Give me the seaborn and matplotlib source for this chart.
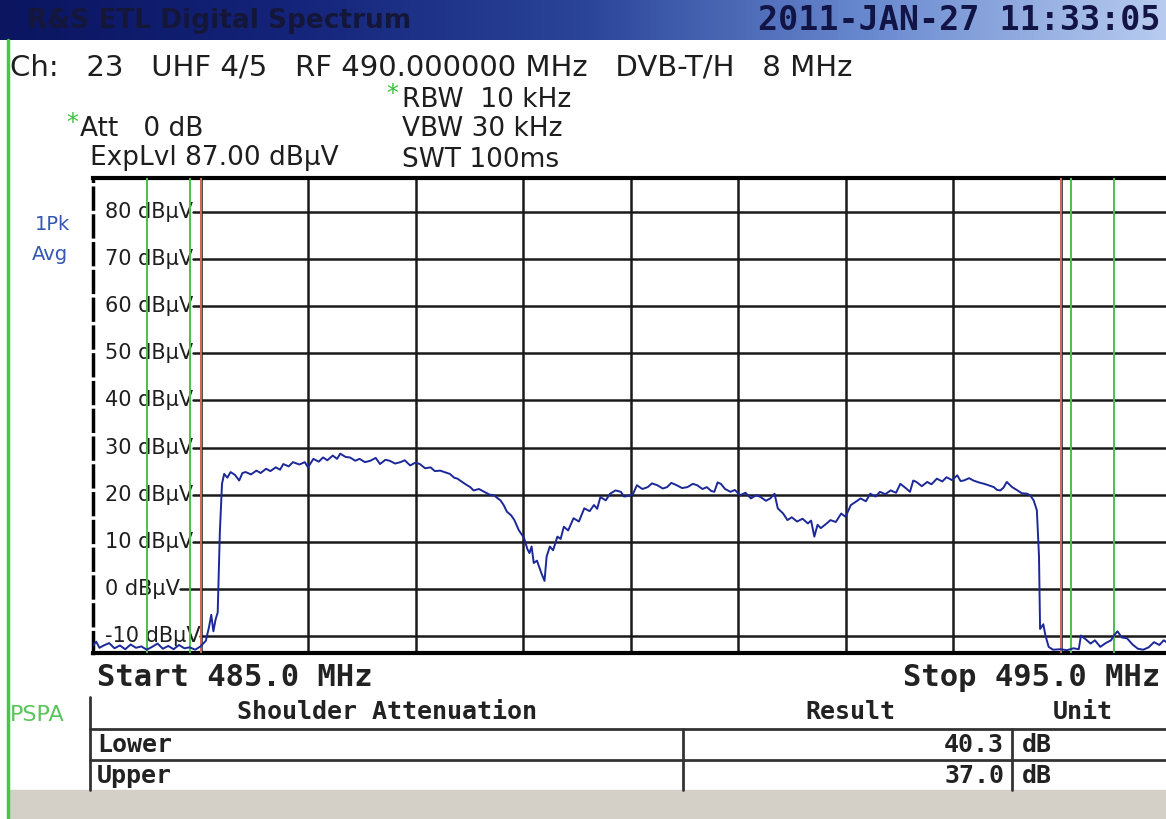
import matplotlib
matplotlib.use("Agg")
import matplotlib.pyplot as plt
import numpy as np
import seaborn as sns
from matplotlib.colors import LinearSegmentedColormap
from matplotlib.lines import Line2D
from matplotlib.patches import Rectangle

# trace (MHz, dBuV)
freq_mhz = [
    485.00, 485.03, 485.06, 485.10, 485.15, 485.20, 485.25, 485.30, 485.35, 485.40,
    485.45, 485.50, 485.55, 485.60, 485.65, 485.70, 485.75, 485.80, 485.85, 485.90,
    485.95, 486.00, 486.05, 486.08, 486.10, 486.12, 486.14, 486.16, 486.18, 486.20,
    486.22, 486.25, 486.28, 486.32, 486.36, 486.39, 486.42, 486.47, 486.52, 486.56,
    486.61, 486.65, 486.70, 486.74, 486.77, 486.82, 486.86, 486.92, 486.97, 487.00,
    487.05, 487.10, 487.14, 487.18, 487.23, 487.27, 487.30, 487.35, 487.39, 487.44,
    487.48, 487.53, 487.58, 487.63, 487.67, 487.72, 487.76, 487.81, 487.86, 487.90,
    487.95, 488.00, 488.04, 488.09, 488.14, 488.18, 488.23, 488.28, 488.32, 488.36,
    488.39, 488.44, 488.48, 488.51, 488.54, 488.59, 488.64, 488.69, 488.73, 488.76,
    488.79, 488.82, 488.85, 488.89, 488.92, 488.96, 489.01, 489.04, 489.06, 489.08,
    489.10, 489.13, 489.17, 489.20, 489.22, 489.25, 489.28, 489.32, 489.35, 489.38,
    489.42, 489.47, 489.52, 489.57, 489.62, 489.66, 489.69, 489.72, 489.77, 489.81,
    489.86, 489.91, 489.94, 489.97, 490.02, 490.06, 490.11, 490.16, 490.20, 490.25,
    490.30, 490.34, 490.38, 490.43, 490.48, 490.53, 490.58, 490.62, 490.67, 490.71,
    490.75, 490.78, 490.81, 490.84, 490.88, 490.93, 490.97, 491.02, 491.07, 491.12,
    491.17, 491.21, 491.26, 491.30, 491.34, 491.37, 491.42, 491.46, 491.50, 491.55,
    491.60, 491.65, 491.68, 491.71, 491.74, 491.77, 491.82, 491.86, 491.91, 491.96,
    492.00, 492.05, 492.09, 492.14, 492.19, 492.23, 492.28, 492.32, 492.37, 492.42,
    492.47, 492.51, 492.56, 492.60, 492.63, 492.66, 492.71, 492.76, 492.80, 492.85,
    492.90, 492.94, 492.99, 493.04, 493.07, 493.10, 493.15, 493.19, 493.24, 493.29,
    493.33, 493.38, 493.41, 493.44, 493.47, 493.50, 493.55, 493.60, 493.64, 493.69,
    493.72, 493.75, 493.78, 493.80, 493.81, 493.84, 493.86, 493.89, 493.93, 494.00,
    494.06, 494.12, 494.17, 494.19, 494.23, 494.28, 494.32, 494.37, 494.42, 494.47,
    494.50, 494.53, 494.57, 494.62, 494.67, 494.72, 494.77, 494.82, 494.87, 494.92,
    494.96, 495.00,
]
level_dbuv = [
    -12.0, -11.2, -12.5, -12.0, -11.5, -12.6, -12.0, -12.8, -11.8, -12.5,
    -12.2, -12.9, -12.3, -11.6, -12.7, -12.1, -12.8, -11.9, -12.6, -12.4,
    -12.9, -12.2, -11.0, -8.0, -5.5, -9.0, -6.5, -5.0, 12.0, 22.3,
    24.4, 23.6, 24.8, 24.2, 23.0, 24.6, 24.8, 24.3, 25.1, 24.6,
    25.5, 25.0, 25.8, 25.3, 26.5, 26.0, 26.9, 26.4, 26.9, 25.8,
    27.6, 27.0, 27.9, 27.3, 28.3, 27.6, 28.7, 28.0, 27.9, 27.2,
    27.6, 26.9, 27.2, 27.8, 26.5, 27.4, 27.2, 26.6, 26.9, 27.3,
    26.2, 26.8, 26.5, 25.6, 25.8, 25.0, 25.1, 24.7, 24.4, 23.6,
    23.4, 22.6, 22.0, 21.6, 20.9, 21.2, 20.6, 20.0, 19.9, 19.3,
    18.8, 17.8, 16.4, 15.6, 14.6, 12.5, 10.8, 8.5, 7.6, 9.0,
    5.5, 6.0, 3.4, 1.7, 6.9, 9.0, 8.2, 11.1, 10.6, 13.2,
    12.4, 15.0, 14.3, 17.1, 16.5, 17.8, 17.0, 19.5, 18.8, 20.2,
    20.9, 20.6, 19.6, 19.7, 20.0, 22.0, 21.2, 21.6, 22.4, 22.0,
    21.3, 21.6, 22.5, 22.0, 21.4, 21.6, 22.3, 22.0, 21.2, 21.6,
    20.8, 20.6, 22.6, 22.3, 21.2, 20.6, 21.0, 19.9, 20.4, 19.2,
    19.9, 19.5, 18.7, 19.2, 20.2, 17.1, 16.0, 14.6, 15.2, 14.3,
    14.9, 13.9, 14.5, 11.1, 13.6, 12.9, 13.8, 14.6, 14.2, 16.0,
    15.3, 17.8, 18.4, 19.2, 18.6, 20.2, 19.6, 20.6, 20.1, 20.9,
    20.4, 22.3, 21.4, 20.6, 23.0, 22.7, 21.8, 22.7, 22.2, 23.4,
    22.8, 23.7, 23.1, 24.1, 22.9, 23.0, 23.5, 23.0, 22.6, 22.3,
    22.0, 21.6, 21.0, 20.9, 21.5, 22.7, 21.6, 20.9, 20.3, 20.2,
    19.8, 18.8, 16.7, 6.9, -8.5, -7.5, -9.9, -12.3, -12.9, -12.8,
    -13.0, -12.6, -12.8, -9.9, -10.6, -11.6, -10.9, -12.3, -11.5, -10.9,
    -9.8, -9.0, -10.3, -10.5, -11.8, -12.7, -12.9, -12.4, -11.3, -11.9,
    -10.9, -11.5,
]

level_ticks = [80, 70, 60, 50, 40, 30, 20, 10, 0, -10]
grid_freqs = [486, 487, 488, 489, 490, 491, 492, 493, 494]
red_markers = [486.0, 494.0]
green_markers = [485.5, 485.9, 494.1, 494.5]

table_header = ["Shoulder Attenuation", "Result", "Unit"]
table_rows = ["Lower", "Upper"]
table_results = ["40.3", "37.0"]
table_units = ["dB", "dB"]

sns.set_style("white")
plt.rcParams['font.family'] = ['DejaVu Sans']

W, H = 1166, 819
fig = plt.figure(figsize=(W / 100, H / 100), dpi=100)
fig.patch.set_facecolor('white')


def fx(px):
    return px / W


def fy(py):
    return 1 - py / H


def fig_line(xs, ys, **kw):
    fig.add_artist(Line2D([fx(x) for x in xs], [fy(y) for y in ys],
                          transform=fig.transFigure, **kw))


# title bar with gradient
bar = fig.add_axes([0, fy(40), 1, 40 / H])
bar_cmap = LinearSegmentedColormap.from_list(
    "bar", ['#0b1560', '#14247a', '#2a4498', '#6a8ad0', '#b8ccf0'])
bar.imshow(np.linspace(0, 1, 256)[None, :], aspect='auto', cmap=bar_cmap,
           extent=[0, 1, 0, 1])
bar.axis('off')
fig.text(fx(27), fy(21), "R&S ETL Digital Spectrum", fontsize=19,
         fontweight='bold', color='#15173a', va='center')
fig.text(fx(1160), fy(21), "2011-JAN-27 11:33:05", fontsize=24,
         fontweight='bold', color='#111445', ha='right', va='center',
         family='DejaVu Sans Mono')

# green screen border and grey footer
fig_line([8, 8], [40, 819], color='#46c846', lw=2.5)
fig.add_artist(Rectangle((fx(10), 0), 1, fy(790), transform=fig.transFigure,
                         color='#d4d0c8', zorder=0))

# header lines
fig.text(fx(10), fy(67), "Ch:   23   UHF 4/5   RF 490.000000 MHz   DVB-T/H   8 MHz",
         fontsize=21, color='#1e1e1e', va='center')
fig.text(fx(398), fy(94), "*", fontsize=17, color='#3cc03c', va='center', ha='right')
fig.text(fx(402), fy(100), "RBW  10 kHz", fontsize=19, color='#1e1e1e', va='center')
fig.text(fx(78), fy(123), "*", fontsize=17, color='#3cc03c', va='center', ha='right')
fig.text(fx(80), fy(129), "Att   0 dB", fontsize=19, color='#1e1e1e', va='center')
fig.text(fx(402), fy(129), "VBW 30 kHz", fontsize=19, color='#1e1e1e', va='center')
fig.text(fx(90), fy(158), "ExpLvl 87.00 dBμV", fontsize=19, color='#1e1e1e', va='center')
fig.text(fx(402), fy(160), "SWT 100ms", fontsize=19, color='#1e1e1e', va='center')
fig.text(fx(35), fy(224), "1Pk", fontsize=14, color='#3456b4', va='center')
fig.text(fx(32), fy(254), "Avg", fontsize=14, color='#3456b4', va='center')

# spectrum axes
ax = fig.add_axes([fx(93), fy(653), fx(1168) - fx(93), (653 - 178) / H])
ax.set_xlim(485, 495)
ax.set_ylim(-13.6, 87.2)
ax.set_xticks([])
ax.set_yticks([])
ax.set_facecolor('white')
for side in ['top', 'bottom']:
    ax.spines[side].set_linewidth(3)
    ax.spines[side].set_color('black')
ax.spines['left'].set_linewidth(2.5)
ax.spines['left'].set_color('black')
ax.spines['left'].set_linestyle((0, (6, 2)))
ax.spines['right'].set_visible(False)

for f in grid_freqs:
    ax.axvline(f, color='#1a1a1a', lw=1.8, zorder=1)
for f in red_markers:
    ax.axvline(f, color='#d46a5a', lw=1.4, zorder=4)
for f in green_markers:
    ax.axvline(f, color='#4cc04c', lw=1.4, zorder=4)

labels = []
for v in level_ticks:
    labels.append(ax.text(485.11, v, f"{v} dBμV", fontsize=15, color='#1e1e1e',
                          va='center', ha='left', zorder=3))
fig.canvas.draw()
renderer = fig.canvas.get_renderer()
inv = ax.transData.inverted()
for v, t in zip(level_ticks, labels):
    bb = t.get_window_extent(renderer)
    x_end = inv.transform((bb.x1, 0))[0]
    ax.plot([x_end, 495], [v, v], color='#1a1a1a', lw=1.8, zorder=1)

sns.lineplot(x=freq_mhz, y=level_dbuv, ax=ax, color='#1c2898', lw=1.4,
             zorder=6, estimator=None, sort=False)

# span labels
fig.text(fx(97), fy(677), "Start 485.0 MHz", fontsize=22, fontweight='bold',
         color='#222222', va='center', family='DejaVu Sans Mono')
fig.text(fx(1160), fy(677), "Stop 495.0 MHz", fontsize=22, fontweight='bold',
         color='#222222', va='center', ha='right', family='DejaVu Sans Mono')

# result table
fig.text(fx(10), fy(715), "PSPA", fontsize=16, color='#5cc45c', va='center')
line_kw = dict(color='#333333', lw=2)
fig_line([90, 90], [697, 790], **line_kw)
fig_line([90, 1166], [729, 729], **line_kw)
fig_line([90, 1166], [760, 760], **line_kw)
fig_line([683, 683], [729, 790], **line_kw)
fig_line([1012, 1012], [729, 790], **line_kw)

mono = dict(family='DejaVu Sans Mono', fontweight='bold', color='#222222',
            va='center', fontsize=18)
for label, xc in zip(table_header, [387, 850, 1083]):
    fig.text(fx(xc), fy(712), label, ha='center', **mono)
for i, (name, res, unit) in enumerate(zip(table_rows, table_results, table_units)):
    yc = 745 + i * 31
    fig.text(fx(97), fy(yc), name, ha='left', **mono)
    fig.text(fx(1004), fy(yc), res, ha='right', **mono)
    fig.text(fx(1022), fy(yc), unit, ha='left', **mono)

fig.savefig('out.png', dpi=100)
